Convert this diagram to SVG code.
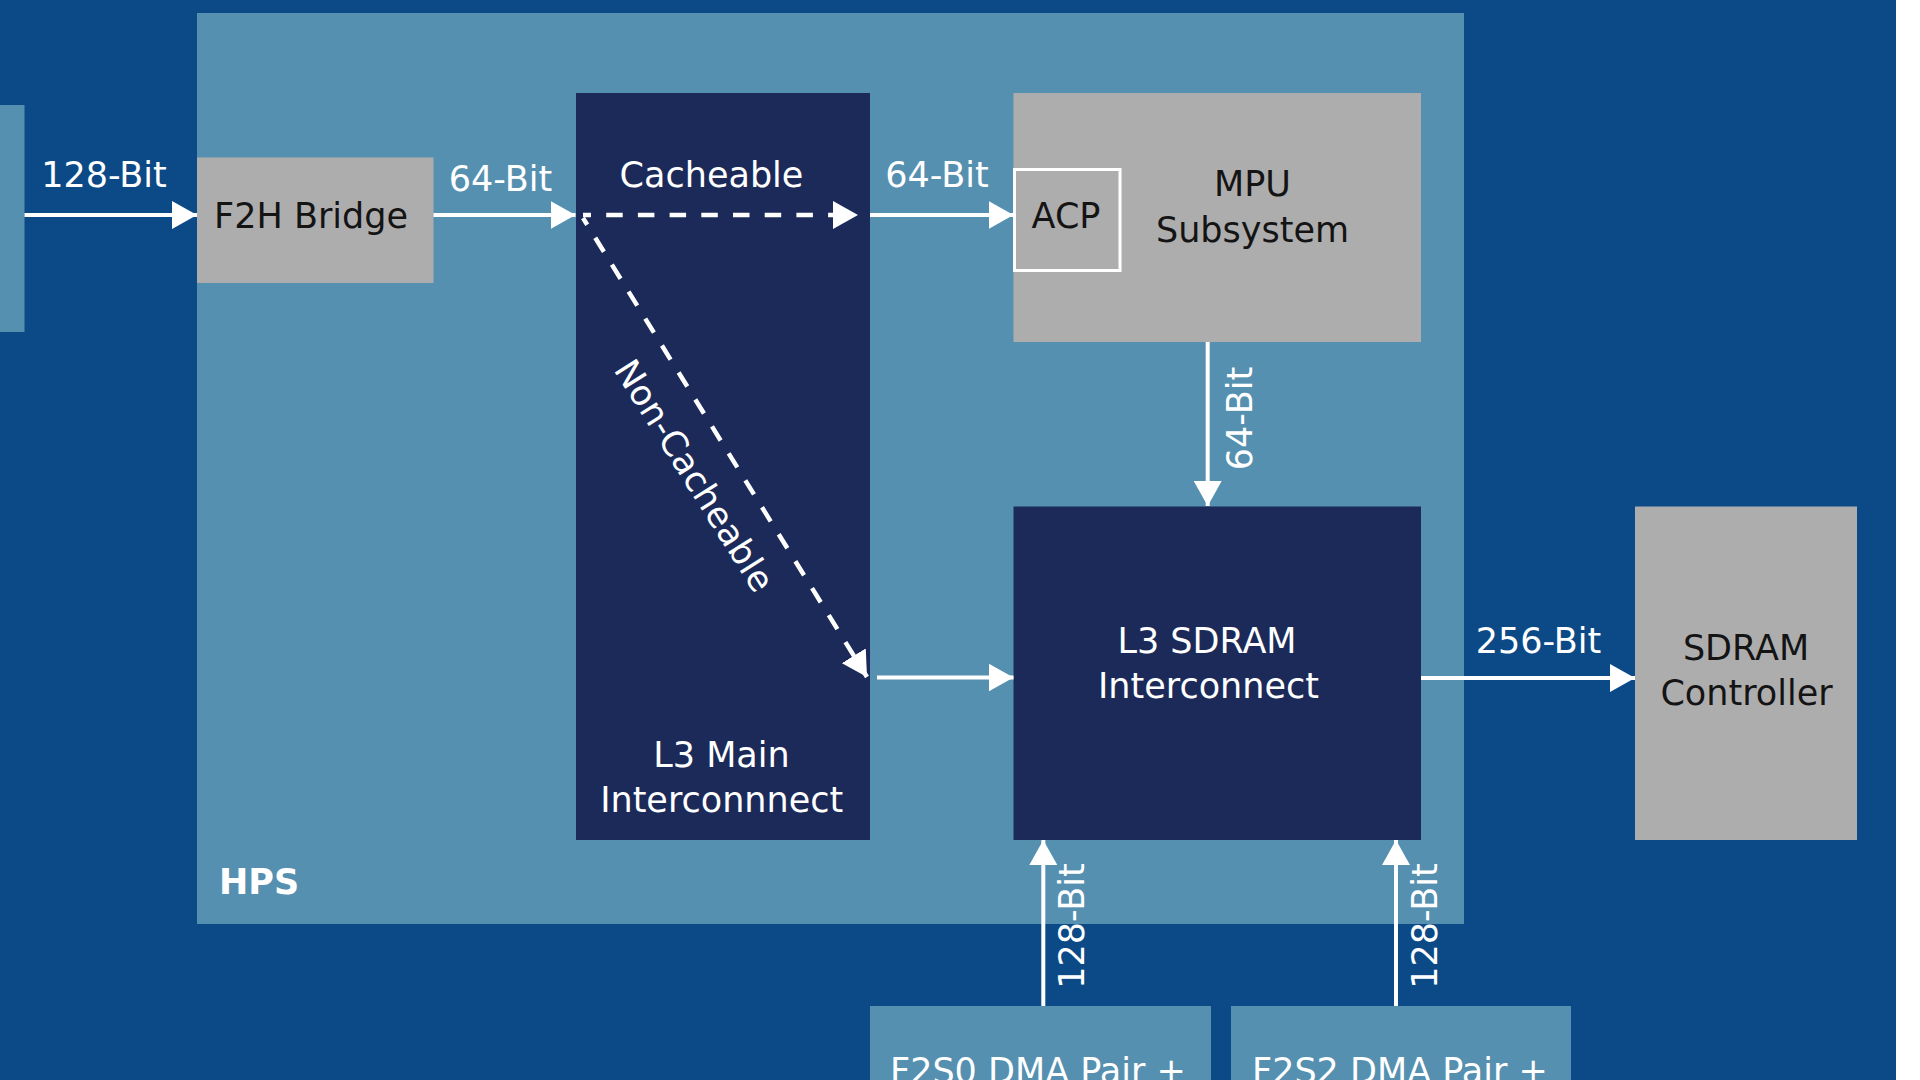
<svg xmlns="http://www.w3.org/2000/svg" width="1920" height="1080" viewBox="0 0 1920 1080">
  <defs>
    <style>
      .lbl { font-family: "DejaVu Sans", "Liberation Sans", sans-serif; font-size: 35px; }
      .w { fill: #ffffff; }
      .k { fill: #141414; }
      .mid { text-anchor: middle; }
      .line { stroke: #ffffff; stroke-width: 4; fill: none; }
      .dash { stroke-dasharray: 16.5 15.2; stroke-dashoffset: 8.5; stroke-width: 4.5; }
      .grey { fill: #aeadae; }
      .navy { fill: #1b2a58; }
      .lblue { fill: #5690b0; }
    </style>
    <marker id="ah" markerUnits="userSpaceOnUse" markerWidth="25" markerHeight="28" refX="25" refY="14" orient="auto">
      <path d="M0,0 L25,14 L0,28 Z" fill="#ffffff"/>
    </marker>
    <clipPath id="clipL3">
      <rect x="576" y="93" width="294" height="747"/>
    </clipPath>
  </defs>

  <rect x="0" y="0" width="1920" height="1080" fill="#ffffff"/>
  <rect x="0" y="0" width="1896" height="1080" fill="#0b4a86"/>

  <g id="fpga-edge">
    <rect class="lblue" x="0" y="105" width="24.5" height="227"/>
  </g>

  <g id="hps">
    <rect class="lblue" x="197" y="13" width="1267" height="911"/>
    <text class="lbl w" x="219" y="894" font-weight="bold">HPS</text>
  </g>

  <g id="f2h-bridge">
    <rect class="grey" x="197" y="157.5" width="236.5" height="125.5"/>
    <text class="lbl k mid" x="311" y="228">F2H Bridge</text>
  </g>

  <g id="l3-main">
    <rect class="navy" x="576" y="93" width="294" height="747"/>
    <text class="lbl w mid" x="711.5" y="186.7">Cacheable</text>
    <text class="lbl w mid" x="721.5" y="766.7">L3 Main</text>
    <text class="lbl w mid" x="721.7" y="811.7">Interconnnect</text>
  </g>

  <g id="mpu">
    <rect class="grey" x="1013.5" y="93" width="407.5" height="249"/>
    <text class="lbl k mid" x="1252.5" y="196">MPU</text>
    <text class="lbl k mid" x="1252.5" y="241.7">Subsystem</text>
  </g>

  <g id="acp">
    <rect class="grey" x="1014.5" y="169.5" width="105.5" height="101" stroke="#ffffff" stroke-width="3"/>
    <text class="lbl k mid" x="1066" y="228">ACP</text>
  </g>

  <g id="l3-sdram">
    <rect class="navy" x="1013.5" y="506.5" width="407.5" height="333.5"/>
    <text class="lbl w mid" x="1207" y="653">L3 SDRAM</text>
    <text class="lbl w mid" x="1208.5" y="698">Interconnect</text>
  </g>

  <g id="sdram-controller">
    <rect class="grey" x="1635" y="506.5" width="222" height="333.5"/>
    <text class="lbl k mid" x="1746" y="660">SDRAM</text>
    <text class="lbl k mid" x="1746.5" y="705">Controller</text>
  </g>

  <g id="dma-f2s0">
    <rect class="lblue" x="870" y="1006" width="341" height="80"/>
    <text class="lbl w" x="890" y="1082.5">F2S0 DMA Pair +</text>
  </g>

  <g id="dma-f2s2">
    <rect class="lblue" x="1231" y="1006" width="340" height="80"/>
    <text class="lbl w" x="1252" y="1082.5">F2S2 DMA Pair +</text>
  </g>

  <g id="connectors">
    <line class="line" x1="24.5" y1="215" x2="197" y2="215" marker-end="url(#ah)"/>
    <text class="lbl w mid" x="104" y="187.3">128-Bit</text>

    <line class="line" x1="433.5" y1="215" x2="575.5" y2="215" marker-end="url(#ah)"/>
    <text class="lbl w mid" x="500.5" y="190.7">64-Bit</text>

    <line class="line dash" x1="583" y1="215" x2="858" y2="215" marker-end="url(#ah)"/>

    <g clip-path="url(#clipL3)">
      <line class="line dash" x1="583" y1="218" x2="867" y2="677" marker-end="url(#ah)"/>
    </g>
    <text class="lbl w mid" transform="translate(684,482) rotate(57.8)" x="0" y="0">Non-Cacheable</text>

    <line class="line" x1="870" y1="215" x2="1013.5" y2="215" marker-end="url(#ah)"/>
    <text class="lbl w mid" x="937" y="186.7">64-Bit</text>

    <line class="line" x1="1207.7" y1="342" x2="1207.7" y2="506" marker-end="url(#ah)"/>
    <text class="lbl w mid" transform="translate(1252,418.5) rotate(-90)" x="0" y="0">64-Bit</text>

    <line class="line" x1="877" y1="677.5" x2="1013.5" y2="677.5" marker-end="url(#ah)"/>

    <line class="line" x1="1421" y1="678" x2="1635" y2="678" marker-end="url(#ah)"/>
    <text class="lbl w mid" x="1538.5" y="653">256-Bit</text>

    <line class="line" x1="1043.3" y1="1006" x2="1043.3" y2="840" marker-end="url(#ah)"/>
    <text class="lbl w mid" transform="translate(1084,926) rotate(-90)" x="0" y="0">128-Bit</text>

    <line class="line" x1="1396" y1="1006" x2="1396" y2="840" marker-end="url(#ah)"/>
    <text class="lbl w mid" transform="translate(1437,926) rotate(-90)" x="0" y="0">128-Bit</text>
  </g>
</svg>
